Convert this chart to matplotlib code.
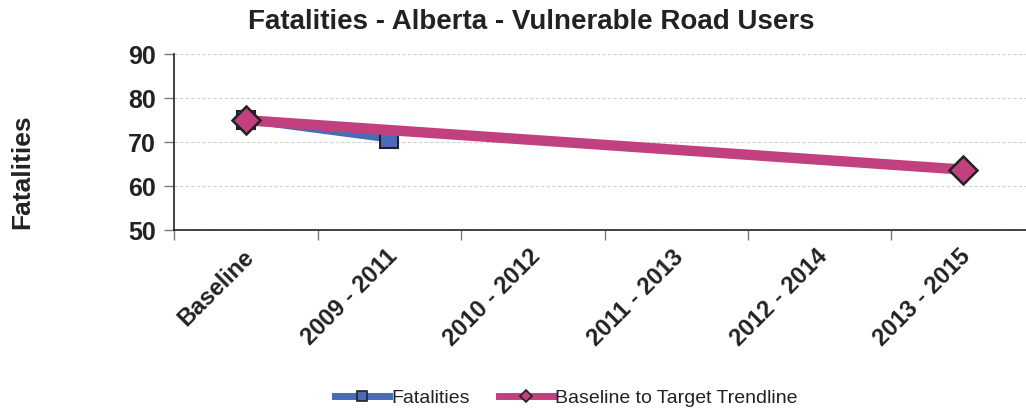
import numpy as np
import matplotlib.pyplot as plt
import matplotlib.transforms as mtransforms
from matplotlib.lines import Line2D

plt.rcParams['font.family'] = ['Liberation Sans', 'DejaVu Sans']

# data
categories = ['Baseline', '2009 - 2011', '2010 - 2012', '2011 - 2013', '2012 - 2014', '2013 - 2015']
fatalities = [75, 70.7, np.nan, np.nan, np.nan, np.nan]
trendline = [75, np.nan, np.nan, np.nan, np.nan, 63.75]

blue = '#4A6BB6'
pink = '#C1407E'

fig = plt.figure(figsize=(10.26, 4.08), dpi=100)
ax = fig.add_axes([174.3 / 1026, 1 - 230 / 408, (1034.7 - 174.3) / 1026, (230 - 54.3) / 408])

x = np.arange(len(categories))
f = np.array(fatalities)
t = np.array(trendline)
fm = ~np.isnan(f)
tm = ~np.isnan(t)

ax.plot(x[fm], f[fm], color=blue, lw=5, marker='s', ms=13.5,
        mfc=blue, mec='#222222', mew=1.5, zorder=3)
ax.plot(x[tm], t[tm], color=pink, lw=7.5, marker='D', ms=14,
        mfc=pink, mec='#222222', mew=1.8, zorder=4)

ax.set_xlim(-0.5, len(categories) - 0.5)
ax.set_ylim(50, 90)
ax.set_yticks([50, 60, 70, 80, 90])
ax.yaxis.grid(True, ls=(0, (3, 2)), color='#d0d0d0', lw=0.8)
ax.set_axisbelow(True)

ax.set_xticks(x)
ax.set_xticklabels(categories, rotation=45, ha='right', rotation_mode='anchor',
                   fontsize=17, fontweight='bold', color='#222222')
ax.set_xticks(np.arange(len(categories) + 1) - 0.5, minor=True)
ax.tick_params(axis='x', which='major', length=0, pad=11)
ax.tick_params(axis='x', which='minor', length=7, color='#777777', width=1)
ax.tick_params(axis='y', length=7, color='#777777', width=1, pad=6,
               labelsize=18)
shift = mtransforms.ScaledTranslation(-4 / 100, 0, fig.dpi_scale_trans)
for lab in ax.get_xticklabels():
    lab.set_transform(lab.get_transform() + shift)
for lab in ax.get_yticklabels():
    lab.set_fontweight('bold')
    lab.set_color('#222222')

for s in ['top', 'right']:
    ax.spines[s].set_visible(False)
ax.spines['left'].set_color('#222222')
ax.spines['bottom'].set_color('#222222')
ax.spines['left'].set_linewidth(1.2)
ax.spines['bottom'].set_linewidth(1.2)

fig.text(531 / 1026, 1 - 22 / 408, 'Fatalities - Alberta - Vulnerable Road Users',
         ha='center', va='center', fontsize=20, fontweight='bold', color='#222222')
fig.text(22 / 1026, 1 - 172 / 408, 'Fatalities', rotation=90, ha='center', va='center',
         fontsize=19, fontweight='bold', color='#222222')

handles = [
    Line2D([], [], color=blue, lw=5, marker='s', ms=7, mfc=blue, mec='#222222', mew=1.2),
    Line2D([], [], color=pink, lw=5, marker='D', ms=6, mfc=pink, mec='#222222', mew=1.2),
]
fig.legend(handles, ['Fatalities', 'Baseline to Target Trendline'], loc='center',
           bbox_to_anchor=(566 / 1026, 1 - 398 / 408), ncol=2, frameon=False,
           fontsize=14, handlelength=2.8, handletextpad=0.1, columnspacing=1.5,
           labelcolor='#222222')

fig.savefig('out.png', dpi=100)
